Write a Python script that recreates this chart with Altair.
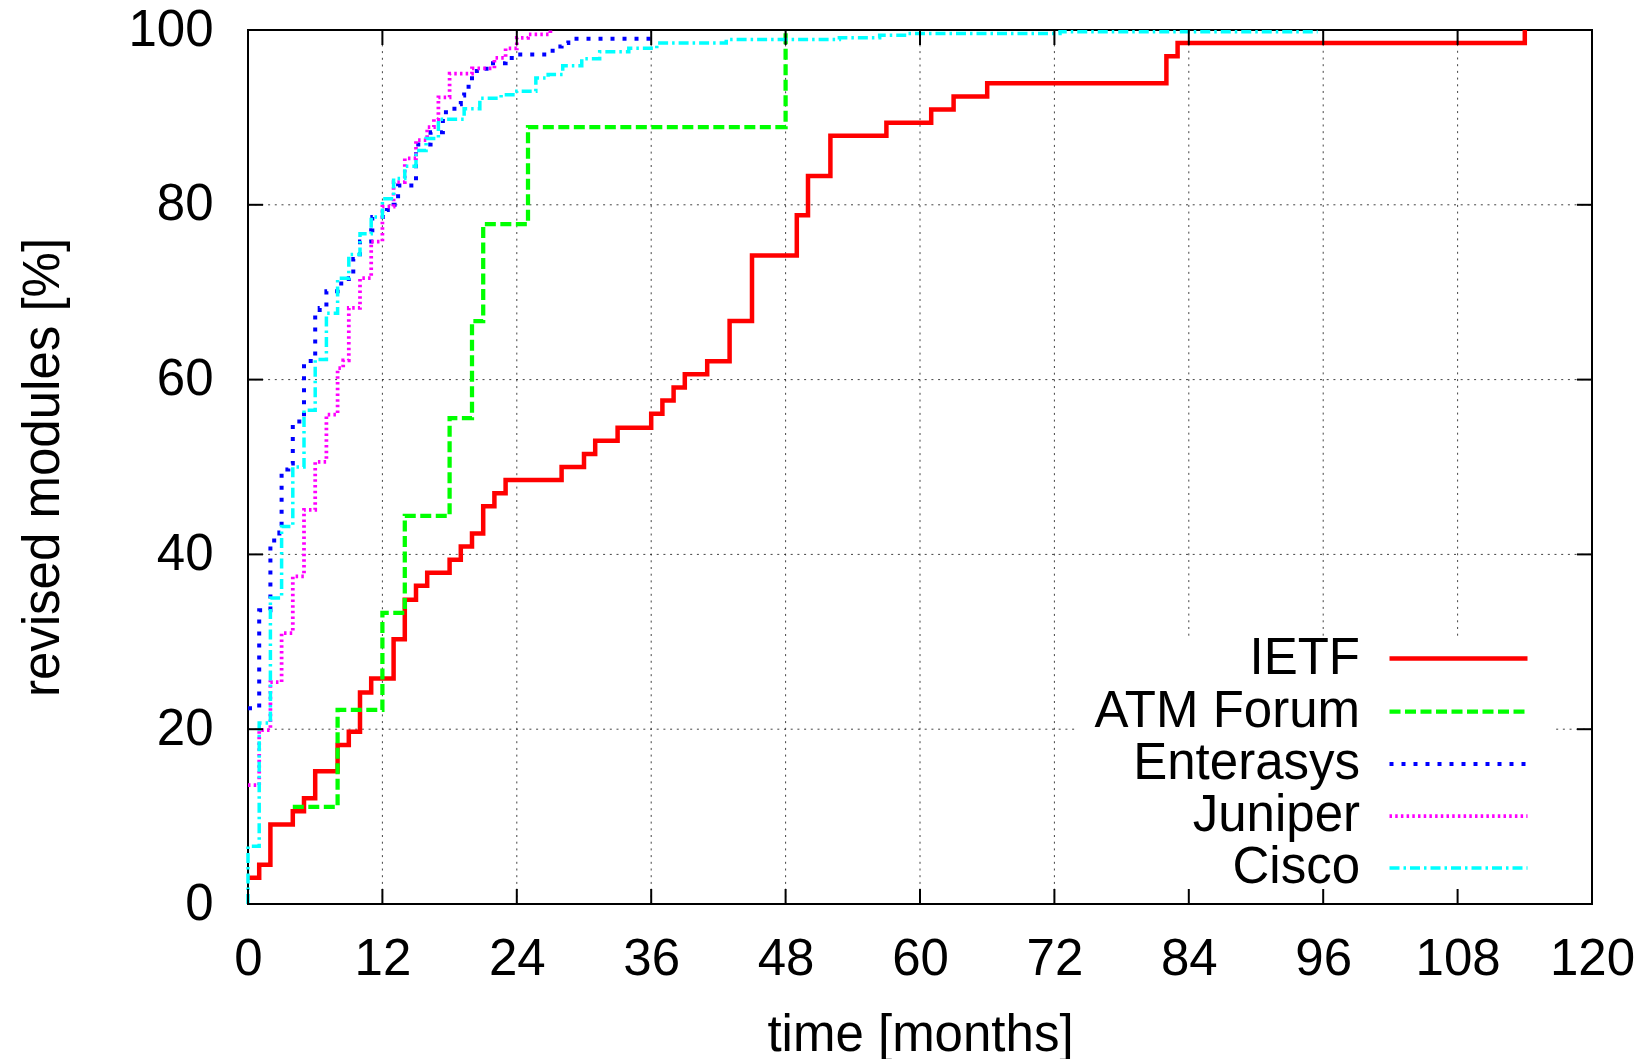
import altair as alt
import pandas as pd

# Share of revised MIB modules over time, per organisation (step curves)
series_names = ["IETF", "ATM Forum", "Enterasys", "Juniper", "Cisco"]
series_colors = ["#ff0000", "#00ff00", "#0000ff", "#ff00ff", "#00ffff"]
series_dashes = [[1, 0], [11, 4.5], [4, 8], [2.5, 3.2], [10, 4, 2.5, 4]]
series_widths = [4.5, 3.5, 4, 3, 3.5]

ietf_month = [0, 1, 2, 4, 5, 6, 8, 9, 10, 11, 13, 14, 15, 16, 18, 19, 20, 21, 22, 23,
              28, 30, 31, 33, 36, 37, 38, 39, 41, 43, 45, 49, 50, 52, 57, 61, 63, 66,
              82, 83, 114]
ietf_pct = [3.0, 4.5, 9.1, 10.6, 12.1, 15.2, 18.2, 19.7, 24.2, 25.8, 30.3, 34.8, 36.4,
            37.9, 39.4, 40.9, 42.4, 45.5, 47.0, 48.5, 50.0, 51.5, 53.0, 54.5, 56.1, 57.6,
            59.1, 60.6, 62.1, 66.7, 74.2, 78.8, 83.3, 87.9, 89.4, 90.9, 92.4, 93.9, 97.0,
            98.5, 100.0]

atm_month = [4, 8, 12, 14, 18, 20, 21, 25, 48]
atm_pct = [11.1, 22.2, 33.3, 44.4, 55.6, 66.7, 77.8, 88.9, 100.0]

ent_month = [0, 1, 2, 2.8, 3, 3.6, 4, 5, 5.6, 6, 6.4, 7, 8, 9, 9.4, 10, 11, 11.1, 12.4,
             13, 13.4, 15, 16.3, 17.4, 18, 18.7, 19, 19.3, 20, 21.3, 23, 23.8, 27.2, 28,
             28.6, 36]
ent_pct = [22.4, 33.6, 41.6, 42.5, 49.7, 50.4, 55.2, 61.9, 62.6, 67.4, 68.2, 70.1, 71.0,
           71.6, 73.8, 75.8, 77.1, 78.6, 79.4, 80.0, 82.2, 86.9, 88.3, 90.6, 91.0, 91.5,
           92.5, 93.5, 95.3, 96.2, 96.8, 97.2, 98.1, 98.5, 99.0, 99.0]

jun_month = [0, 1, 2, 3, 4, 5, 6, 7, 8, 8.5, 9, 10, 11, 12, 13, 14, 15, 16, 16.6, 17, 18,
             20, 22, 23, 24, 25, 27]
jun_pct = [13.6, 19.9, 25.4, 31.0, 37.5, 45.1, 50.6, 56.0, 61.3, 62.2, 68.2, 71.6, 75.8,
           79.8, 82.6, 85.3, 87.4, 88.9, 89.8, 92.3, 95.0, 95.6, 96.8, 97.9, 99.1, 99.5,
           100.0]

cis_month = [0, 0, 1, 2, 3, 4, 5, 6, 7, 8, 9, 10, 11, 12, 13, 14, 15, 15.9, 17, 19.3,
             20.7, 22.6, 24, 25.7, 26.8, 28.1, 29.8, 31.4, 34, 36.5, 42.7, 52.8, 56.4,
             58.8, 72.5, 95.5]
cis_pct = [0.0, 6.6, 20.7, 35.0, 43.2, 50.0, 56.5, 62.3, 67.6, 71.6, 74.3, 76.7, 78.6,
           80.7, 83.0, 84.4, 86.2, 87.6, 89.8, 91.0, 92.2, 92.6, 93.0, 94.5, 94.9, 95.9,
           96.7, 97.5, 97.9, 98.5, 98.9, 99.1, 99.4, 99.6, 99.8, 99.8]

x_ticks = [0, 12, 24, 36, 48, 60, 72, 84, 96, 108, 120]
y_ticks = [0, 20, 40, 60, 80, 100]

# dotted grid, left open behind the key box in the lower right
vgrid_month = [12, 24, 36, 48, 60, 72, 84, 96, 108]
vgrid_lo = [0, 0, 0, 0, 0, 0, 30.7, 30.7, 30.7]
vgrid_hi = [100, 100, 100, 100, 100, 100, 100, 100, 100]
hgrid_pct = [20, 20, 40, 60, 80]
hgrid_lo = [0, 116.8, 0, 0, 0]
hgrid_hi = [74.1, 120, 120, 120, 120]

rows = []
for name, months, pcts in zip(
    series_names,
    [ietf_month, atm_month, ent_month, jun_month, cis_month],
    [ietf_pct, atm_pct, ent_pct, jun_pct, cis_pct],
):
    for i, (m, p) in enumerate(zip(months, pcts)):
        rows.append({"series": name, "month": m, "pct": p, "idx": i})
df = pd.DataFrame(rows)

W, H = 1344, 874
FONT = "Liberation Sans"
TICK = 15
GRID = dict(color="#222", strokeWidth=1, strokeDash=[2, 4.7], opacity=0.85)

x_axis = alt.Axis(
    values=x_ticks, title="time [months]", domain=False, ticks=False, grid=False,
    labelPadding=55, labelFontSize=51, labelFont=FONT, labelColor="black",
    labelBaseline="middle", labelFlush=False,
    titleFontSize=51, titleFont=FONT, titleFontWeight="normal", titleColor="black",
    titleX=W / 2, titleY=146, titleBaseline="alphabetic", titleAlign="center",
)
y_axis = alt.Axis(
    values=y_ticks, title="revised modules [%]", domain=False, ticks=False, grid=False,
    labelPadding=35, labelFontSize=51, labelFont=FONT, labelColor="black",
    labelBaseline="middle", labelAlign="right", labelFlush=False,
    titleFontSize=51, titleFont=FONT, titleFontWeight="normal", titleColor="black",
    titleX=-205, titleY=H / 2, titleAngle=270, titleAlign="center",
    titleBaseline="middle",
)
x_scale = alt.Scale(domain=[0, 120], nice=False, zero=False)
y_scale = alt.Scale(domain=[0, 100], nice=False)

X = alt.X("month:Q", scale=x_scale, axis=x_axis)
Y = alt.Y("pct:Q", scale=y_scale, axis=y_axis)

# key with the text to the left of each long line sample
legend = alt.Legend(
    title=None, orient="none", legendX=1176, legendY=594,
    labelAlign="right", labelOffset={"expr": "-125"}, labelFontSize=51, labelFont=FONT,
    labelColor="black", labelLimit=0, symbolType="M-2.875,0H2.875", symbolSize=2304,
    rowPadding=1, padding=8,
)

vgrid = alt.Chart(pd.DataFrame({"month": vgrid_month, "pct": vgrid_lo, "pct_hi": vgrid_hi})
                  ).mark_rule(**GRID).encode(x=X, y=Y, y2="pct_hi:Q")
hgrid = alt.Chart(pd.DataFrame({"pct": hgrid_pct, "month": hgrid_lo, "month_hi": hgrid_hi})
                  ).mark_rule(**GRID).encode(y=Y, x=X, x2="month_hi:Q")

lines = alt.Chart(df).mark_line(interpolate="step-after", strokeCap="butt").encode(
    x=X,
    y=Y,
    color=alt.Color("series:N", scale=alt.Scale(domain=series_names, range=series_colors),
                    legend=legend, sort=series_names),
    strokeDash=alt.StrokeDash("series:N", scale=alt.Scale(domain=series_names, range=series_dashes),
                              legend=legend, sort=series_names),
    strokeWidth=alt.StrokeWidth("series:N", scale=alt.Scale(domain=series_names, range=series_widths),
                                legend=legend, sort=series_names),
    order="idx:Q",
)

xt = pd.DataFrame({"month": x_ticks})
yt = pd.DataFrame({"pct": y_ticks})

# inward ticks on all four sides
x_bottom = alt.Chart(xt).mark_rule(color="black", strokeWidth=2).encode(
    x=X, y=alt.value(H), y2=alt.value(H - TICK))
x_top = alt.Chart(xt).mark_rule(color="black", strokeWidth=2).encode(
    x=X, y=alt.value(0), y2=alt.value(TICK))
y_left = alt.Chart(yt).mark_rule(color="black", strokeWidth=2).encode(
    y=Y, x=alt.value(0), x2=alt.value(TICK))
y_right = alt.Chart(yt).mark_rule(color="black", strokeWidth=2).encode(
    y=Y, x=alt.value(W - TICK), x2=alt.value(W))

chart = alt.layer(vgrid, hgrid, lines, x_bottom, x_top, y_left, y_right).properties(
    width=W, height=H,
    autosize=alt.AutoSizeParams(type="none"),
    padding={"left": 248, "top": 30, "right": 56, "bottom": 155},
    background="white",
).configure_view(stroke="black", strokeWidth=2)

chart.save("out.html", embed_options={"renderer": "svg", "actions": False})
